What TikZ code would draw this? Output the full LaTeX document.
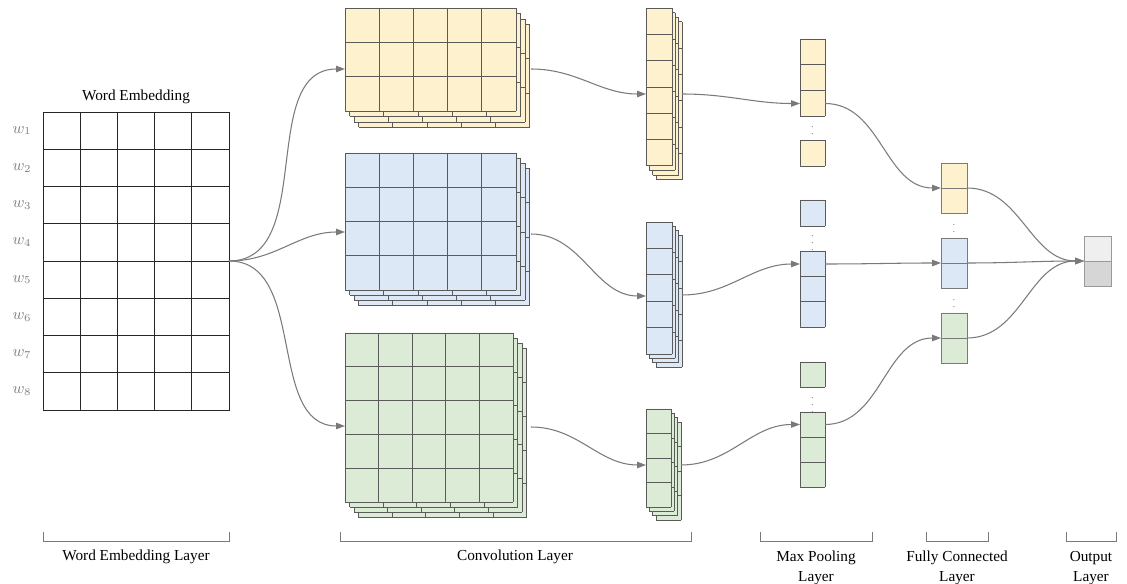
\documentclass[tikz,border=0pt]{standalone}
\usepackage{fontspec}
\setmainfont{Liberation Serif}
\usetikzlibrary{arrows.meta}

\definecolor{CYellow}{HTML}{FDF1CE}
\definecolor{CBlue}{HTML}{DCE8F6}
\definecolor{CGreen}{HTML}{DCEBD6}
\definecolor{CLine}{HTML}{5A5A5A}
\definecolor{CArrow}{HTML}{7A7A7A}
\definecolor{OutTop}{HTML}{EFEFEF}
\definecolor{OutBot}{HTML}{D6D6D6}

% block of cells: style, x, y, cols, rows, cell width, cell height
\newcommand{\cellblock}[7]{%
  \fill[#1] (#2,#3) rectangle ++(#4*#6,#5*#7);
  \foreach \ci in {0,...,#4}
    \draw[cellline,#1] ({#2+\ci*#6},#3) -- ++(0,#5*#7);
  \foreach \ri in {0,...,#5}
    \draw[cellline,#1] (#2,{#3+\ri*#7}) -- ++(#4*#6,0);
}

\begin{document}
\begin{tikzpicture}[x=0.02cm,y=-0.02cm,
    cellline/.style={draw=CLine,line width=0.45pt},
    conn/.style={draw=CArrow,line width=0.6pt,-{Triangle[length=5pt,width=3.6pt]}},
    lbl/.style={font=\fontsize{8.7}{11.3}\selectfont,align=center,inner sep=0pt},
    wlbl/.style={text=gray,font=\small,inner sep=0pt},
    ell/.style={text=gray!70!black,font=\fontsize{5}{5}\selectfont,inner sep=0pt},
    brack/.style={draw=CArrow,line width=0.5pt}]
  \useasboundingbox (0,0) rectangle (1127,584);

  % word embedding
  \cellblock{fill=white,draw=black!85,line width=0.55pt}{43}{112}{5}{8}{37.2}{37.25}
  \node[lbl] (wetitle) at (136,97) {Word Embedding};
  \foreach \i in {1,...,8}
    \node[wlbl] (w\i) at (22,{112+37.25*(\i-0.5)}) {$w_{\i}$};

  % convolution layer
  \foreach \k in {3,2,1,0} {
    \cellblock{fill=CYellow}{345+4.5*\k}{8+5.5*\k}{5}{3}{34.2}{34.3}
    \cellblock{fill=CBlue}{345+4.5*\k}{153+5.2*\k}{5}{4}{34.2}{34.25}
    \cellblock{fill=CGreen}{345+4.5*\k}{333+5.2*\k}{5}{5}{33.6}{33.8}
  }
  \foreach \k in {3,2,1,0} {
    \cellblock{fill=CYellow}{646+3.4*\k}{8+4.6*\k}{1}{6}{26}{26.3}
    \cellblock{fill=CBlue}{646+3.4*\k}{222+4.4*\k}{1}{5}{26}{26.4}
    \cellblock{fill=CGreen}{646+3.4*\k}{409+4.4*\k}{1}{4}{25}{24.5}
  }

  % max pooling layer
  \cellblock{fill=CYellow}{800}{39}{1}{3}{25}{25.8}
  \node[ell] (my-dots) at (812.5,129) {$\vdots$};
  \cellblock{fill=CYellow}{800}{140}{1}{1}{25}{26}
  \cellblock{fill=CBlue}{800}{200}{1}{1}{25}{26}
  \node[ell] (mb-dots) at (812.5,238) {$\vdots$};
  \cellblock{fill=CBlue}{800}{251}{1}{3}{25}{25.3}
  \cellblock{fill=CGreen}{800}{362}{1}{1}{25}{25}
  \node[ell] (mg-dots) at (812.5,400) {$\vdots$};
  \cellblock{fill=CGreen}{800}{412}{1}{3}{25}{25}

  % fully connected layer
  \cellblock{fill=CYellow,draw=CArrow}{941}{163}{1}{2}{26}{25}
  \node[ell] (f1-dots) at (954,227) {$\vdots$};
  \cellblock{fill=CBlue,draw=CArrow}{941}{238}{1}{2}{26}{25}
  \node[ell] (f2-dots) at (954,302) {$\vdots$};
  \cellblock{fill=CGreen,draw=CArrow}{941}{313}{1}{2}{26}{25}

  % output layer
  \fill[OutTop] (1084,236) rectangle (1111,261);
  \fill[OutBot] (1084,261) rectangle (1111,286);
  \draw[draw=gray!80] (1084,236) rectangle (1111,286) (1084,261) -- (1111,261);

  % connector ends
  \coordinate (we-out) at (229,261);
  \coordinate (cy-in) at (345,69);
  \coordinate (cb-in) at (345,232);
  \coordinate (cg-in) at (345,426);
  \coordinate (cy-out) at (531,69);
  \coordinate (cb-out) at (531,234);
  \coordinate (cg-out) at (531,427);
  \coordinate (ky-in) at (646,94);
  \coordinate (kb-in) at (646,296);
  \coordinate (kg-in) at (646,465);
  \coordinate (ky-out) at (682,94);
  \coordinate (kb-out) at (682,295);
  \coordinate (kg-out) at (681,465);
  \coordinate (my-in) at (800,103.5);
  \coordinate (mb-in) at (800,264);
  \coordinate (mg-in) at (800,424.5);
  \coordinate (my-out) at (825,103.5);
  \coordinate (mb-out) at (825,264);
  \coordinate (mg-out) at (825,424.5);
  \coordinate (fy-in) at (941,188);
  \coordinate (fb-in) at (941,263);
  \coordinate (fg-in) at (941,338);
  \coordinate (fy-out) at (967,188);
  \coordinate (fb-out) at (967,263);
  \coordinate (fg-out) at (967,338);
  \coordinate (out-in) at (1084,261);

  \draw[conn] (we-out) to[out=0,in=180] (cy-in);
  \draw[conn] (we-out) to[out=0,in=180] (cb-in);
  \draw[conn] (we-out) to[out=0,in=180] (cg-in);
  \draw[conn] (cy-out) to[out=0,in=180] (ky-in);
  \draw[conn] (cb-out) to[out=0,in=180] (kb-in);
  \draw[conn] (cg-out) to[out=0,in=180] (kg-in);
  \draw[conn] (ky-out) to[out=0,in=180] (my-in);
  \draw[conn] (kb-out) to[out=0,in=180] (mb-in);
  \draw[conn] (kg-out) to[out=0,in=180] (mg-in);
  \draw[conn] (my-out) to[out=0,in=180] (fy-in);
  \draw[conn] (mb-out) to[out=0,in=180] (fb-in);
  \draw[conn] (mg-out) to[out=0,in=180] (fg-in);
  \draw[conn] (fy-out) to[out=0,in=180] (out-in);
  \draw[conn] (fb-out) to[out=0,in=180] (out-in);
  \draw[conn] (fg-out) to[out=0,in=180] (out-in);

  % layer brackets
  \draw[brack] (43,532) -- (43,541) -- (229,541) -- (229,532);
  \draw[brack] (340,532) -- (340,541) -- (691,541) -- (691,532);
  \draw[brack] (760,532) -- (760,541) -- (872,541) -- (872,532);
  \draw[brack] (926,532) -- (926,541) -- (988,541) -- (988,532);
  \draw[brack] (1066,532) -- (1066,541) -- (1116,541) -- (1116,532);
  \node[lbl] (l-we) at (136,557) {Word Embedding Layer};
  \node[lbl] (l-conv) at (515,557) {Convolution Layer};
  \node[lbl,anchor=north] (l-pool) at (816,551) {Max Pooling\\Layer};
  \node[lbl,anchor=north] (l-fc) at (957,551) {Fully Connected\\Layer};
  \node[lbl,anchor=north] (l-out) at (1091,551) {Output\\Layer};
\end{tikzpicture}
\end{document}
